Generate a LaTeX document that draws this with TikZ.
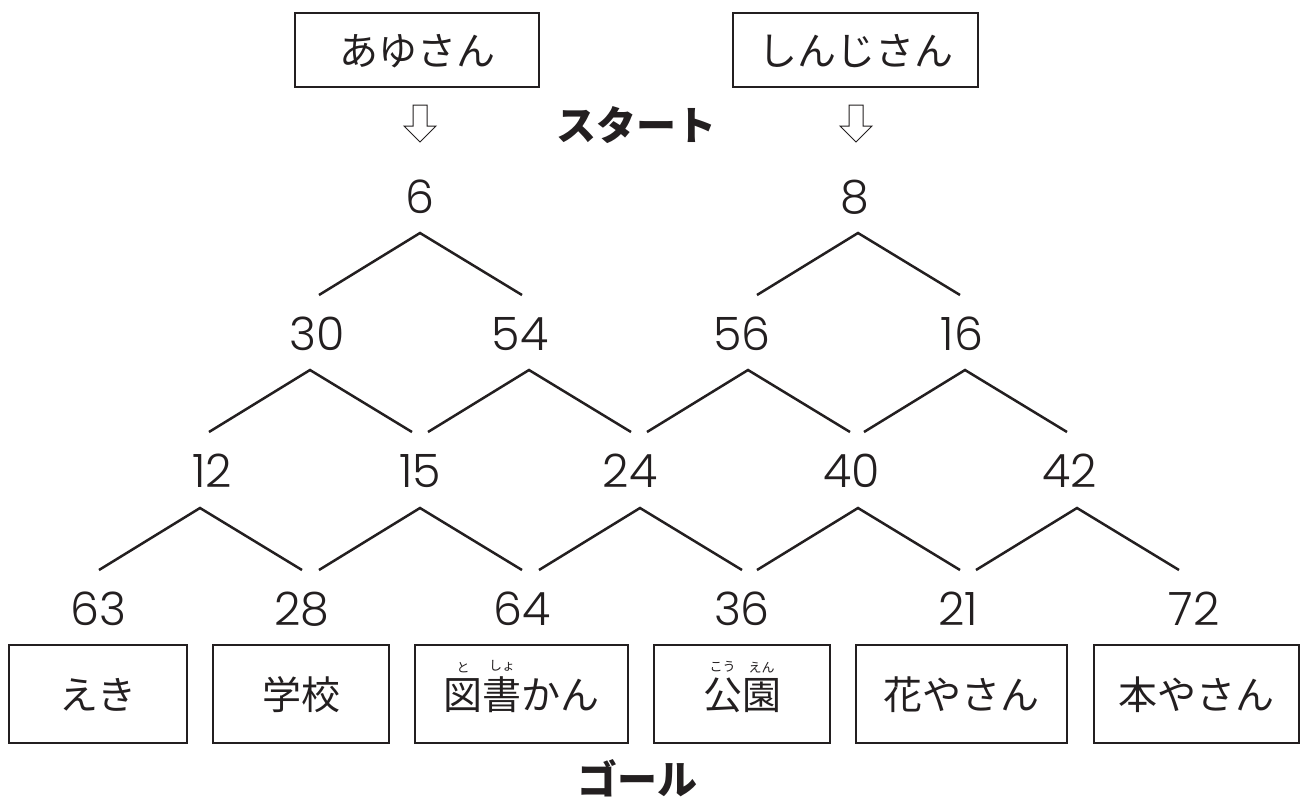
\documentclass[tikz,border=0pt]{standalone}
\usepackage{fontspec}
\setmainfont{Noto Sans CJK JP}
\newfontfamily\numfont{Poppins Light}
\definecolor{ink}{RGB}{35,31,32}
\newcommand\rubyc[2]{\leavevmode\vbox{\offinterlineskip\halign{\hfil##\hfil\cr{\fontsize{13}{13}\selectfont #2}\cr\noalign{\kern5pt}#1\cr}}}
\tikzset{
  goalbox/.style={draw=ink, line width=1.3pt, minimum height=98pt, inner sep=0pt,
    text height=34pt, text depth=4pt, font=\fontsize{39}{39}\selectfont, text=ink},
  namebox/.style={draw=ink, line width=1.3pt, minimum height=74pt, inner sep=0pt,
    text height=34pt, text depth=4pt, font=\fontsize{39}{39}\selectfont, text=ink},
  num/.style={font=\numfont\fontsize{46}{46}\selectfont, text=ink, inner sep=0pt, anchor=base},
  vee/.style={line width=2.5pt, draw=ink, line join=miter},
  hollow/.style={line width=1pt, draw=ink, fill=white, line join=miter},
  title/.style={font=\fontsize{40}{40}\selectfont\bfseries, text=ink, inner sep=0pt},
}
\begin{document}
\begin{tikzpicture}[x=1pt,y=1pt]
\path[use as bounding box] (0,0) rectangle (1301,-798);

% top name boxes
\node[namebox, minimum width=244pt] (ayu) at (417,-50) {あゆさん};
\node[namebox, minimum width=245pt] (shinji) at (855.5,-50) {しんじさん};

% start label and arrows
\node[title] (start) at (636,-125) {スタート};
\coordinate (arL) at (420,-105);
\coordinate (arR) at (856,-105);
\foreach \a in {arL,arR}{
  \draw[hollow] (\a) ++(-7,0) -- ++(0,-21) -- ++(-9,0) -- ++(16,-16) -- ++(16,16) -- ++(-9,0) -- ++(0,21) -- cycle;
}

% numbers
\node[num] (n6) at (420,-213) {6};
\node[num] (n8) at (855,-213) {8};
\node[num] (n30) at (317,-350) {30};
\node[num] (n54) at (520,-350) {54};
\node[num] (n56) at (742,-350) {56};
\node[num] (n16) at (962,-350) {16};
\node[num] (n12) at (212,-487) {12};
\node[num] (n15) at (420,-487) {15};
\node[num] (n24) at (630,-487) {24};
\node[num] (n40) at (852,-487) {40};
\node[num] (n42) at (1070,-487) {42};
\node[num] (n63) at (98,-625) {63};
\node[num] (n28) at (302,-625) {28};
\node[num] (n64) at (522,-625) {64};
\node[num] (n36) at (742,-625) {36};
\node[num] (n21) at (958,-625) {21};
\node[num] (n72) at (1194,-625) {72};

% apex coordinates of the branching lines
\coordinate (t6) at (420,-233);
\coordinate (t8) at (858,-233);
\coordinate (t30) at (310,-370);
\coordinate (t54) at (529,-370);
\coordinate (t56) at (748,-370);
\coordinate (t16) at (965,-370);
\coordinate (t12) at (200,-508);
\coordinate (t15) at (420,-508);
\coordinate (t24) at (640,-508);
\coordinate (t40) at (858,-508);
\coordinate (t42) at (1077,-508);
\foreach \t in {t6,t8,t30,t54,t56,t16,t12,t15,t24,t40,t42}{
  \draw[vee] (\t) +(-101,-62) -- (\t) -- +(102,-62);
}

% goal boxes
\node[goalbox, minimum width=178pt] (eki) at (98,-694) {えき};
\node[goalbox, minimum width=176pt] (gakko) at (301,-694) {学校};
\node[goalbox, minimum width=213pt] (tosho) at (521.5,-694) {\rubyc{図}{と}\rubyc{書}{しょ}かん};
\node[goalbox, minimum width=176pt] (koen) at (742,-694) {\rubyc{公}{こう}\rubyc{園}{えん}};
\node[goalbox, minimum width=211pt] (hana) at (961.5,-694) {花やさん};
\node[goalbox, minimum width=205pt] (hon) at (1196.5,-694) {本やさん};

\node[title] (goal) at (637,-778) {ゴール};
\end{tikzpicture}
\end{document}
